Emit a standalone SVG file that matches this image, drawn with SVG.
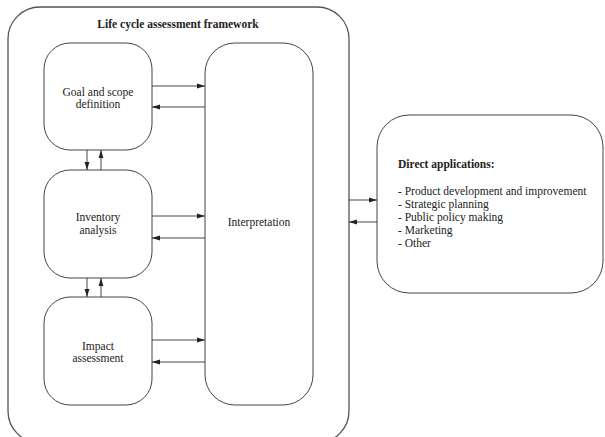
<svg xmlns="http://www.w3.org/2000/svg" width="605" height="437" viewBox="0 0 605 437">
<style>
.box{fill:#fff;stroke:#444;stroke-width:1}
.frame{fill:#fff;stroke:#555;stroke-width:1.3}
.t{font-family:"Liberation Serif","Times New Roman",serif;font-size:11.5px;fill:#222}
.c{text-anchor:middle}
.b{font-weight:bold}
.ln{stroke:#333;stroke-width:0.9;fill:none;marker-end:url(#ah)}
</style>
<defs>
<marker id="ah" viewBox="0 0 8 6" refX="8" refY="3" markerWidth="8" markerHeight="6" markerUnits="userSpaceOnUse" orient="auto">
<path d="M0,0.6 L8,3 L0,5.4 Z" fill="#222"/>
</marker>
</defs>
<g id="framework">
<rect class="frame" x="8" y="7" width="341" height="436" rx="32" ry="32"/>
<text class="t c b" x="178" y="28">Life cycle assessment framework</text>
</g>
<g id="goal">
<rect class="box" x="44" y="43" width="108" height="107" rx="26" ry="26"/>
<text class="t c" x="98" y="96">Goal and scope</text>
<text class="t c" x="98" y="108">definition</text>
</g>
<g id="inventory">
<rect class="box" x="44" y="170" width="108" height="108" rx="26" ry="26"/>
<text class="t c" x="98" y="221">Inventory</text>
<text class="t c" x="98" y="234">analysis</text>
</g>
<g id="impact">
<rect class="box" x="44" y="297" width="108" height="108" rx="26" ry="26"/>
<text class="t c" x="98" y="350">Impact</text>
<text class="t c" x="98" y="362">assessment</text>
</g>
<g id="interpretation">
<rect class="box" x="205" y="43" width="108" height="362" rx="30" ry="30"/>
<text class="t c" x="259" y="226">Interpretation</text>
</g>
<g id="applications">
<rect class="box" x="377" y="115" width="226" height="178" rx="32" ry="32"/>
<text class="t b" x="398" y="168">Direct applications:</text>
<text class="t" x="398" y="195">- Product development and improvement</text>
<text class="t" x="398" y="208">- Strategic planning</text>
<text class="t" x="398" y="221">- Public policy making</text>
<text class="t" x="398" y="234">- Marketing</text>
<text class="t" x="398" y="247">- Other</text>
</g>
<g id="connectors">
<line class="ln" x1="152" y1="86" x2="205" y2="86"/>
<line class="ln" x1="205" y1="107" x2="152" y2="107"/>
<line class="ln" x1="152" y1="216" x2="205" y2="216"/>
<line class="ln" x1="205" y1="238" x2="152" y2="238"/>
<line class="ln" x1="152" y1="340" x2="205" y2="340"/>
<line class="ln" x1="205" y1="362" x2="152" y2="362"/>
<line class="ln" x1="87" y1="150" x2="87" y2="170"/>
<line class="ln" x1="101" y1="170" x2="101" y2="150"/>
<line class="ln" x1="87" y1="278" x2="87" y2="297"/>
<line class="ln" x1="101" y1="297" x2="101" y2="278"/>
<line class="ln" x1="349" y1="200" x2="377" y2="200"/>
<line class="ln" x1="377" y1="222" x2="349" y2="222"/>
</g>
</svg>
